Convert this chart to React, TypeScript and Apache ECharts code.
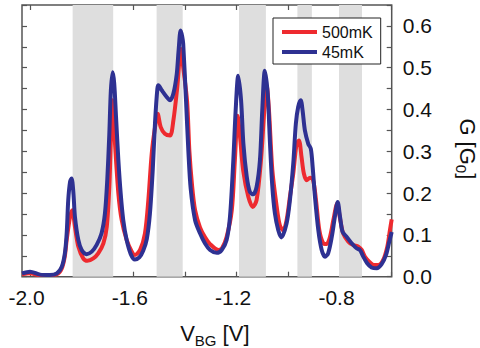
import React, { useEffect, useRef } from "react";
import * as echarts from "echarts";

const vBlue = [-2.031,-2.0,-1.961,-1.923,-1.896,-1.877,-1.865,-1.858,-1.852,-1.845,-1.839,-1.832,-1.826,-1.813,-1.8,-1.781,-1.761,-1.742,-1.723,-1.71,-1.701,-1.693,-1.687,-1.68,-1.674,-1.667,-1.658,-1.649,-1.639,-1.626,-1.61,-1.594,-1.577,-1.562,-1.548,-1.536,-1.525,-1.516,-1.507,-1.503,-1.49,-1.471,-1.458,-1.445,-1.432,-1.425,-1.417,-1.411,-1.407,-1.396,-1.387,-1.378,-1.361,-1.342,-1.323,-1.303,-1.277,-1.258,-1.239,-1.226,-1.213,-1.204,-1.194,-1.183,-1.174,-1.161,-1.149,-1.136,-1.123,-1.11,-1.101,-1.091,-1.08,-1.071,-1.062,-1.052,-1.039,-1.027,-1.007,-0.994,-0.981,-0.971,-0.962,-0.952,-0.945,-0.936,-0.923,-0.913,-0.906,-0.897,-0.884,-0.871,-0.858,-0.846,-0.832,-0.82,-0.809,-0.8,-0.79,-0.774,-0.755,-0.736,-0.723,-0.71,-0.695,-0.678,-0.658,-0.639,-0.622,-0.609,-0.6];
const gBlue = [0.008,0.012,0.005,0.004,0.008,0.024,0.056,0.104,0.183,0.227,0.235,0.2,0.143,0.088,0.064,0.054,0.06,0.076,0.104,0.151,0.231,0.342,0.446,0.489,0.462,0.382,0.279,0.199,0.135,0.088,0.054,0.041,0.046,0.062,0.09,0.15,0.255,0.37,0.45,0.458,0.446,0.43,0.422,0.438,0.485,0.54,0.589,0.575,0.557,0.42,0.3,0.21,0.135,0.104,0.08,0.064,0.057,0.064,0.088,0.143,0.279,0.398,0.481,0.422,0.318,0.239,0.203,0.197,0.215,0.279,0.398,0.493,0.438,0.318,0.215,0.151,0.111,0.094,0.127,0.183,0.271,0.366,0.406,0.422,0.398,0.35,0.318,0.306,0.263,0.191,0.111,0.064,0.048,0.056,0.095,0.143,0.179,0.143,0.107,0.095,0.08,0.068,0.064,0.048,0.032,0.022,0.02,0.03,0.052,0.085,0.107];

const vRed = [-2.031,-2.0,-1.961,-1.923,-1.896,-1.877,-1.865,-1.858,-1.845,-1.836,-1.826,-1.813,-1.794,-1.778,-1.755,-1.736,-1.716,-1.703,-1.693,-1.687,-1.681,-1.671,-1.658,-1.645,-1.626,-1.606,-1.594,-1.574,-1.555,-1.542,-1.529,-1.516,-1.506,-1.494,-1.478,-1.458,-1.445,-1.43,-1.416,-1.407,-1.392,-1.383,-1.373,-1.361,-1.342,-1.323,-1.303,-1.271,-1.257,-1.239,-1.219,-1.207,-1.196,-1.187,-1.175,-1.155,-1.138,-1.123,-1.106,-1.093,-1.084,-1.075,-1.062,-1.045,-1.033,-1.02,-1.007,-0.994,-0.981,-0.968,-0.959,-0.949,-0.94,-0.929,-0.916,-0.904,-0.893,-0.88,-0.865,-0.852,-0.839,-0.826,-0.811,-0.8,-0.788,-0.768,-0.749,-0.729,-0.716,-0.704,-0.687,-0.669,-0.652,-0.633,-0.617,-0.607,-0.6];
const gRed = [0.006,0.008,0.004,0.004,0.006,0.02,0.05,0.088,0.143,0.159,0.119,0.072,0.044,0.038,0.044,0.056,0.08,0.119,0.215,0.33,0.422,0.318,0.199,0.135,0.088,0.06,0.052,0.064,0.104,0.183,0.294,0.358,0.39,0.358,0.342,0.338,0.374,0.453,0.545,0.501,0.42,0.3,0.22,0.159,0.118,0.095,0.078,0.064,0.068,0.095,0.159,0.279,0.385,0.334,0.255,0.191,0.167,0.183,0.279,0.398,0.457,0.398,0.255,0.167,0.123,0.111,0.135,0.191,0.247,0.318,0.326,0.286,0.247,0.231,0.237,0.231,0.183,0.111,0.08,0.078,0.095,0.135,0.175,0.139,0.104,0.084,0.076,0.072,0.064,0.048,0.036,0.028,0.028,0.04,0.072,0.111,0.137];

// shaded gate-voltage bands [start, end] in V
const bandStarts = [-1.835, -1.51, -1.191, -0.965, -0.804];
const bandEnds = [-1.678, -1.409, -1.087, -0.909, -0.715];

const seriesNames = ["500mK", "45mK"];
const FONT = "'Liberation Sans', Arial, sans-serif";
const FRAME = "#555";

export default function App() {
  const ref = useRef<HTMLDivElement>(null);
  useEffect(() => {
    if (!ref.current) return;
    const chart = echarts.init(ref.current, null, { renderer: "svg" });
    const redData = vRed.map((v, i) => [v, gRed[i]]);
    const blueData = vBlue.map((v, i) => [v, gBlue[i]]);
    const bands = bandStarts.map((s, i) => [{ xAxis: s }, { xAxis: bandEnds[i] }]);
    const yFmt = (v: number) => {
      const k = Math.round(v * 100);
      return k % 10 === 0 ? (k / 100).toFixed(1) : "";
    };
    const xFmt = (v: number) => {
      const k = Math.round((v + 2) / 0.2);
      return k % 2 === 0 && k < 8 ? v.toFixed(1) : "";
    };
    const rich = {
      a: { fontSize: 22, fontFamily: FONT, color: "#111", verticalAlign: "top", lineHeight: 22 },
      s: { fontSize: 15, fontFamily: FONT, color: "#111", verticalAlign: "bottom", padding: [10, 0, 0, 0] },
    };
    chart.setOption({
      animation: false,
      backgroundColor: "#fff",
      textStyle: { fontFamily: FONT },
      grid: [
        { left: 22, right: 88.3, top: 5, bottom: 71.3, show: true, borderColor: FRAME, borderWidth: 1.5, backgroundColor: "transparent", outerBoundsMode: "none", containLabel: false },
        { left: 30, right: 88.3, top: 5, bottom: 71.3, show: false, outerBoundsMode: "none", containLabel: false },
      ],
      xAxis: [
        { type: "value", gridIndex: 0, min: -2.031, max: -0.6, show: false },
        {
          type: "value", gridIndex: 1, min: -2.0, max: -0.6, interval: 0.2, position: "bottom",
          axisLine: { show: false },
          axisTick: { show: true, inside: true, length: 5, lineStyle: { color: FRAME, width: 1.2 } },
          splitLine: { show: false },
          axisLabel: { show: true, formatter: xFmt, fontSize: 21, color: "#111", margin: 10, fontFamily: FONT, showMinLabel: true, padding: [0, 7, 0, 0] },
          name: "{a|V}{s|BG}{a| [V]}",
          nameLocation: "middle",
          nameGap: 46,
          nameTextStyle: { rich, padding: [0, 0, 0, 8] },
        },
        {
          type: "value", gridIndex: 1, min: -2.0, max: -0.6, interval: 0.2, position: "top",
          axisLine: { show: false },
          axisTick: { show: true, inside: true, length: 5, lineStyle: { color: FRAME, width: 1.2 } },
          splitLine: { show: false },
          axisLabel: { show: false },
        },
      ],
      yAxis: [
        {
          type: "value", gridIndex: 0, min: 0, max: 0.65, interval: 0.05, position: "right",
          axisLine: { show: false },
          axisTick: { show: true, inside: true, length: 5, lineStyle: { color: FRAME, width: 1.2 } },
          splitLine: { show: false },
          axisLabel: { formatter: yFmt, fontSize: 21, color: "#111", margin: 11, fontFamily: FONT },
          name: "{a|G [G}{s|0}{a|]}",
          nameLocation: "middle",
          nameRotate: -90,
          nameGap: 62,
          nameTextStyle: { rich, padding: [0, 0, 0, 16] },
        },
        {
          type: "value", gridIndex: 0, min: 0, max: 0.65, interval: 0.05, position: "left",
          axisLine: { show: false },
          axisTick: { show: true, inside: true, length: 5, lineStyle: { color: FRAME, width: 1.2 } },
          splitLine: { show: false },
          axisLabel: { show: false },
        },
        { type: "value", gridIndex: 1, min: 0, max: 0.65, show: false },
      ],
      legend: {
        data: seriesNames,
        orient: "vertical",
        left: 273,
        top: 18,
        itemWidth: 35,
        itemHeight: 4,
        itemGap: 4,
        icon: "rect",
        padding: [6, 8, 4, 9],
        borderColor: "#222",
        borderWidth: 1,
        borderRadius: 0,
        backgroundColor: "#fff",
        textStyle: { fontSize: 16, color: "#111", fontFamily: FONT },
      },
      series: [
        {
          type: "line", name: "bands", xAxisIndex: 0, yAxisIndex: 0, data: [], z: 1,
          markArea: { silent: true, itemStyle: { color: "#dedede" }, data: bands },
        },
        {
          type: "line", name: seriesNames[0], xAxisIndex: 0, yAxisIndex: 0, data: redData,
          showSymbol: false, smooth: 0.3, color: "#ee2a2f",
          lineStyle: { width: 4, color: "#ee2a2f" }, z: 3,
        },
        {
          type: "line", name: seriesNames[1], xAxisIndex: 0, yAxisIndex: 0, data: blueData,
          showSymbol: false, smooth: 0.3, color: "#2e3192",
          lineStyle: { width: 4, color: "#2e3192" }, z: 4,
        },
      ],
    });
    return () => chart.dispose();
  }, []);
  return (
    <div
      ref={ref}
      style={{ position: "fixed", left: 0, top: 0, width: 480, height: 348, background: "#fff" }}
    />
  );
}
